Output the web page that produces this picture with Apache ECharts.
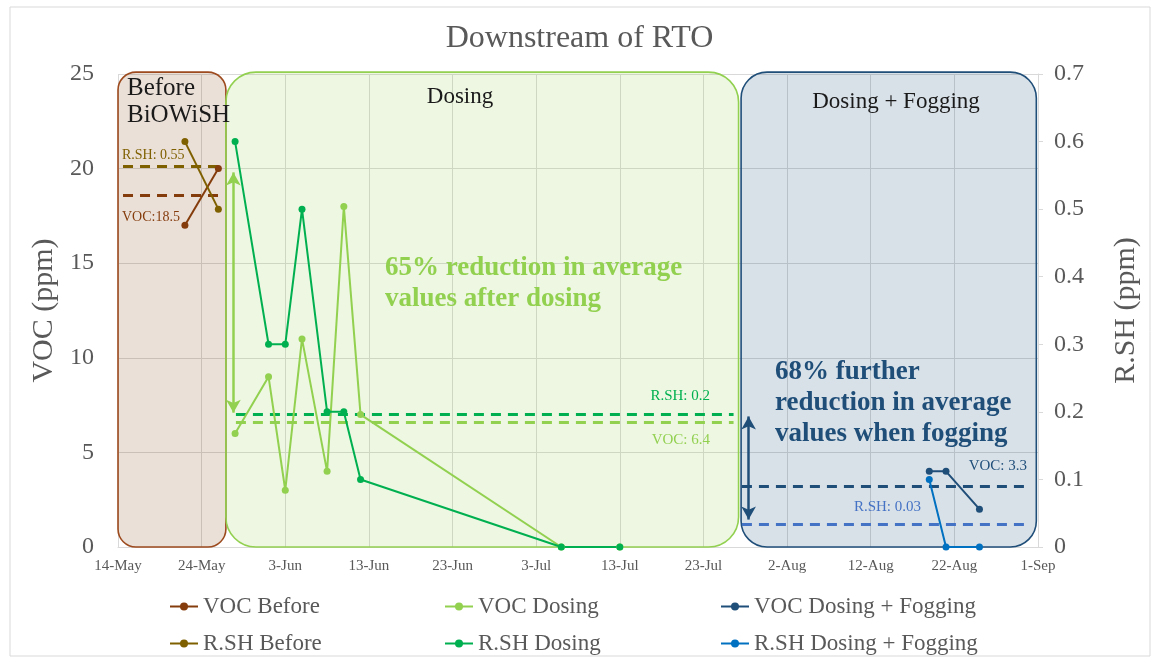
<!DOCTYPE html>
<html><head><meta charset="utf-8">
<script src="https://cdn.jsdelivr.net/npm/echarts@6/dist/echarts.min.js"></script>
<style>html,body{margin:0;padding:0;background:#fff}#c{width:1159px;height:659px}</style>
</head><body><div id="c"></div>
<script>
// ---------- data ----------
const START = '2023-05-14';
const xTickLabels = ['14-May','24-May','3-Jun','13-Jun','23-Jun','3-Jul','13-Jul','23-Jul','2-Aug','12-Aug','22-Aug','1-Sep'];

const beforeDates = ['2023-05-22','2023-05-26'];
const vocBefore = [17, 20];
const rshBefore = [0.6, 0.5];

const dosingDates = ['2023-05-28','2023-06-01','2023-06-03','2023-06-05','2023-06-08','2023-06-10','2023-06-12','2023-07-06','2023-07-13'];
const vocDosing = [6, 9, 3, 11, 4, 18, 7, 0, 0];
const rshDosing = [0.6, 0.3, 0.3, 0.5, 0.2, 0.2, 0.1, 0, 0];

const fogDates = ['2023-08-19','2023-08-21','2023-08-25'];
const vocFog = [4, 4, 2];
const rshFog = [0.1, 0, 0];

// phase boxes (day offsets from START)
const phaseStartDay = [0, 12.9, 74.5];
const phaseEndDay = [12.9, 74.2, 109.8];
const phaseTop = 25.1;

// average lines
const vocAvg = [18.6, 6.6, 3.23];
const rshAvg = [0.563, 0.197, 0.033];
const avgStartDay = [0.6, 14.1, 74.6];
const avgEndDay = [12.2, 73.6, 108.7];

// reduction arrows (day, VOC from, VOC to)
const arrowDay = [13.8, 75.4];
const arrowFrom = [19.8, 6.9];
const arrowTo = [7.1, 1.45];

const seriesNames = ['VOC Before','VOC Dosing','VOC Dosing + Fogging','R.SH Before','R.SH Dosing','R.SH Dosing + Fogging'];

// ---------- helpers ----------
const DAY = 86400000;
const t0 = Date.parse(START + 'T00:00:00Z');
const toDay = d => Math.round((Date.parse(d + 'T00:00:00Z') - t0) / DAY);
const pts = (dates, vals) => dates.map((d, i) => [toDay(d), vals[i]]);

const FONT = '"Liberation Serif", "Times New Roman", serif';
const colors = {
  vocBefore: '#843C0C', rshBefore: '#7F6000',
  vocDosing: '#92D050', rshDosing: '#00B050',
  vocFog: '#1F4E79', rshFog: '#0070C0', rshFogAvg: '#4472C4'
};
const boxStyles = [
  {fill: 'rgba(132,60,12,0.16)', stroke: '#9C4A1E', r: 18},
  {fill: 'rgba(146,208,80,0.17)', stroke: '#92D050', r: 30},
  {fill: 'rgba(31,78,121,0.17)', stroke: '#1F4E79', r: 26}
];

function avgLine(i, val, color) {
  return {
    symbol: 'none', silent: true, label: {show: false},
    lineStyle: {color: color, type: [10, 7], width: 3},
    data: [[{coord: [avgStartDay[i], val]}, {coord: [avgEndDay[i], val]}]]
  };
}
function lineSeries(name, data, color, yIdx, ml) {
  return {
    name: name, type: 'line', data: data, yAxisIndex: yIdx,
    symbol: 'circle', symbolSize: 7, z: 5,
    lineStyle: {color: color, width: 2}, itemStyle: {color: color},
    markLine: ml, animation: false
  };
}
function arrowSeries(i, color) {
  return {
    type: 'line', data: [], yAxisIndex: 0, z: 6,
    markLine: {
      symbol: ['arrow', 'arrow'], symbolSize: [11, 13], silent: true,
      label: {show: false},
      lineStyle: {color: color, type: 'solid', width: 2.5},
      data: [[{coord: [arrowDay[i], arrowFrom[i]]}, {coord: [arrowDay[i], arrowTo[i]]}]]
    },
    animation: false
  };
}

const legendX = [164, 439, 715];
const legendY = [590, 627];
const legends = seriesNames.map((n, i) => ({
  data: [n], left: legendX[i % 3], top: legendY[Math.floor(i / 3)],
  itemWidth: 28, itemHeight: 10, selectedMode: false,
  textStyle: {fontFamily: FONT, fontSize: 23, color: '#595959'}
}));

function txt(text, x, y, size, color, align, bold) {
  return {
    type: 'text', z: 100, silent: true,
    style: {text: text, x: x, y: y, fill: color, align: align || 'left', verticalAlign: 'middle',
      font: (bold ? 'bold ' : '') + size + 'px ' + FONT, lineHeight: Math.round(size * 1.2)}
  };
}

const option = {
  animation: false,
  backgroundColor: '#fff',
  title: {
    text: 'Downstream of RTO', left: 'center', top: 18,
    textStyle: {fontFamily: FONT, fontSize: 32, fontWeight: 'normal', color: '#595959'}
  },
  legend: legends,
  grid: {left: 118, right: 121, top: 74, bottom: 112},
  xAxis: {
    type: 'value', min: 0, max: 110, interval: 10,
    axisLine: {show: true, lineStyle: {color: '#D9D9D9'}},
    axisTick: {show: false},
    splitLine: {show: true, lineStyle: {color: '#D9D9D9', width: 1}},
    axisLabel: {formatter: v => xTickLabels[Math.round(v / 10)], fontFamily: FONT, fontSize: 15, color: '#595959', margin: 12}
  },
  yAxis: [{
    type: 'value', min: 0, max: 25, interval: 5,
    name: 'VOC (ppm)', nameLocation: 'middle', nameGap: 58,
    nameTextStyle: {fontFamily: FONT, fontSize: 30, color: '#595959'},
    axisLine: {show: false}, axisTick: {show: false},
    splitLine: {show: true, lineStyle: {color: '#D9D9D9', width: 1}},
    axisLabel: {fontFamily: FONT, fontSize: 24, color: '#595959', margin: 24}
  }, {
    type: 'value', min: 0, max: 0.7, interval: 0.1, position: 'right',
    name: 'R.SH (ppm)', nameLocation: 'middle', nameGap: 73,
    nameTextStyle: {fontFamily: FONT, fontSize: 30, color: '#595959'},
    axisLine: {show: true, lineStyle: {color: '#D9D9D9'}},
    axisTick: {show: true, length: 5, lineStyle: {color: '#D9D9D9'}},
    splitLine: {show: false},
    axisLabel: {formatter: v => v === 0 ? '0' : v.toFixed(1), fontFamily: FONT, fontSize: 24, color: '#595959', margin: 16}
  }],
  series: [
    {
      type: 'custom', silent: true, z: 1, clip: false, yAxisIndex: 0,
      data: phaseStartDay.map((s, i) => [s, phaseEndDay[i], 0, phaseTop]),
      renderItem: function (params, api) {
        const st = boxStyles[params.dataIndex];
        const a = api.coord([api.value(0), api.value(3)]);
        const b = api.coord([api.value(1), api.value(2)]);
        return {
          type: 'rect',
          shape: {x: a[0], y: a[1], width: b[0] - a[0], height: b[1] - a[1], r: st.r},
          style: {fill: st.fill, stroke: st.stroke, lineWidth: 1.6}
        };
      },
      animation: false
    },
    lineSeries('VOC Before', pts(beforeDates, vocBefore), colors.vocBefore, 0, avgLine(0, vocAvg[0], colors.vocBefore)),
    lineSeries('VOC Dosing', pts(dosingDates, vocDosing), colors.vocDosing, 0, avgLine(1, vocAvg[1], colors.vocDosing)),
    lineSeries('VOC Dosing + Fogging', pts(fogDates, vocFog), colors.vocFog, 0, avgLine(2, vocAvg[2], colors.vocFog)),
    lineSeries('R.SH Before', pts(beforeDates, rshBefore), colors.rshBefore, 1, avgLine(0, rshAvg[0], colors.rshBefore)),
    lineSeries('R.SH Dosing', pts(dosingDates, rshDosing), colors.rshDosing, 1, avgLine(1, rshAvg[1], colors.rshDosing)),
    lineSeries('R.SH Dosing + Fogging', pts(fogDates, rshFog), colors.rshFog, 1, avgLine(2, rshAvg[2], colors.rshFogAvg)),
    arrowSeries(0, colors.vocDosing),
    arrowSeries(1, colors.vocFog)
  ],
  graphic: [
    {type: 'rect', silent: true, z: -1, shape: {x: 10, y: 7, width: 1140, height: 649}, style: {fill: 'none', stroke: '#D9D9D9', lineWidth: 1}},
    txt('Before', 127, 88, 25, '#1a1a1a'),
    txt('BiOWiSH', 127, 115, 25, '#1a1a1a'),
    txt('R.SH: 0.55', 122, 155, 14, colors.rshBefore),
    txt('VOC:18.5', 122, 217, 14, colors.vocBefore),
    txt('Dosing', 460, 97, 23, '#1a1a1a', 'center'),
    txt('Dosing + Fogging', 896, 102, 23, '#1a1a1a', 'center'),
    txt('65% reduction in average', 385, 268, 27, colors.vocDosing, 'left', true),
    txt('values after dosing', 385, 299, 27, colors.vocDosing, 'left', true),
    txt('68% further', 775, 372, 27, colors.vocFog, 'left', true),
    txt('reduction in average', 775, 403, 27, colors.vocFog, 'left', true),
    txt('values when fogging', 775, 434, 27, colors.vocFog, 'left', true),
    txt('R.SH: 0.2', 710, 396, 15, colors.rshDosing, 'right'),
    txt('VOC: 6.4', 710, 440, 15, colors.vocDosing, 'right'),
    txt('VOC: 3.3', 1027, 466, 15, colors.vocFog, 'right'),
    txt('R.SH: 0.03', 921, 507, 15, colors.rshFogAvg, 'right')
  ]
};

const chart = echarts.init(document.getElementById('c'), null, {renderer: 'canvas'});
chart.setOption(option);
</script>
</body></html>
